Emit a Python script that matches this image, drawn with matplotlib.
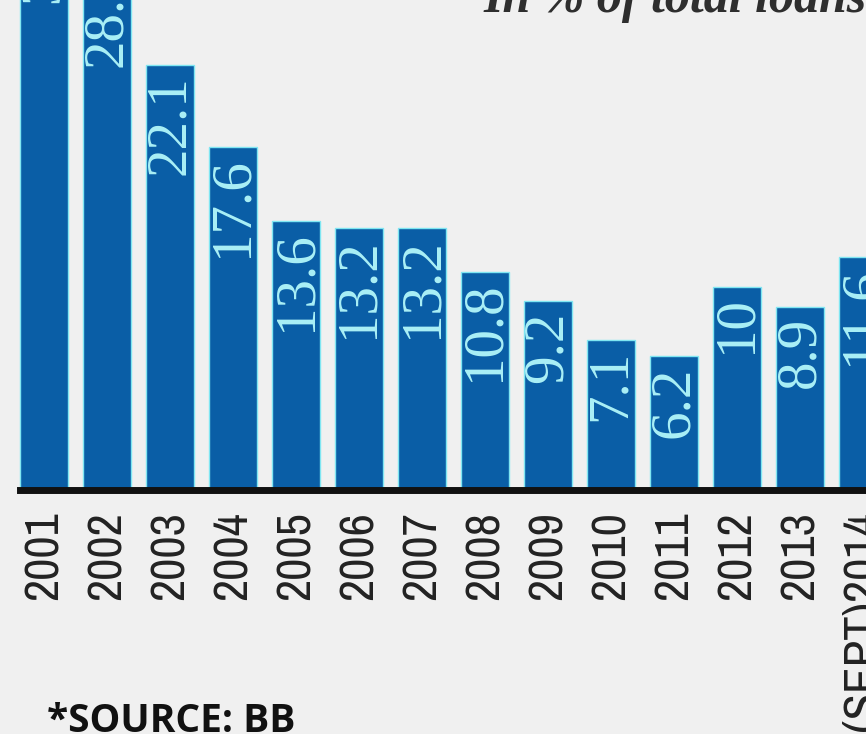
import matplotlib
matplotlib.use("Agg")
import matplotlib.pyplot as plt
from matplotlib import font_manager as fm

years = ["2001", "2002", "2003", "2004", "2005", "2006", "2007",
         "2008", "2009", "2010", "2011", "2012", "2013", "(SEPT)2014"]
values = [31.5, 28.0, 22.1, 17.6, 13.6, 13.2, 13.2, 10.8, 9.2, 7.1, 6.2, 10, 8.9, 11.6]
labels = ["31.5", "28.0", "22.1", "17.6", "13.6", "13.2", "13.2", "10.8",
          "9.2", "7.1", "6.2", "10", "8.9", "11.6"]

avail = {f.name for f in fm.fontManager.ttflist}
narrow = None
for cand in ["Archivo Narrow", "Liberation Sans Narrow"]:
    if cand in avail:
        narrow = cand
        break

BG = "#f0f0f0"
BAR = "#0a5ea6"
TXT = "#aaf0f6"

YBOT = -1.12
fig = plt.figure(figsize=(8.66, 7.34), dpi=100, facecolor=BG)
ax = fig.add_axes([0, (734 - 490) / 734, 1, 490 / 734])
ax.set_facecolor(BG)

x = list(range(len(years)))
heights = [v - YBOT for v in values]
ax.bar(x, heights, bottom=YBOT, width=0.76, color=BAR, edgecolor="#7fe6f2",
       linewidth=1.0, zorder=2)

ax.set_xlim((0 - 44) / 63, (866 - 44) / 63)
ax.set_ylim(YBOT, 25.66)

for xi, v, lab in zip(x, values, labels):
    ax.text(xi, v - 0.55, lab, rotation=90, ha="center", va="top",
            fontsize=41, family="Liberation Serif", color=TXT, zorder=3,
            clip_on=False)

ax.axhline(YBOT, xmin=20 / 866, xmax=1, color="#111111", linewidth=5, zorder=4,
           clip_on=False)

for s in ax.spines.values():
    s.set_visible(False)
ax.set_yticks([])
ax.set_xticks(x)
if narrow:
    ax.set_xticklabels(years, rotation=90, va="top", ha="center",
                       fontsize=35, family=narrow, color="#222222")
else:
    ax.set_xticklabels(years, rotation=90, va="top", ha="center",
                       fontsize=28, family="DejaVu Sans", stretch="condensed",
                       color="#222222")
ax.tick_params(axis="x", length=0, pad=15)

fig.text(483 / 866, 1 - 12 / 734, "In % of total loans", ha="left", va="baseline",
         fontsize=36, family="Liberation Serif", style="italic", weight="bold",
         color="#2e2e2e")

fig.text(47 / 866, 2 / 734, "*SOURCE: BB", ha="left", va="baseline",
         fontsize=28, family="Open Sans", weight="bold", color="#111111")

fig.savefig("out.png", dpi=100, facecolor=BG)
